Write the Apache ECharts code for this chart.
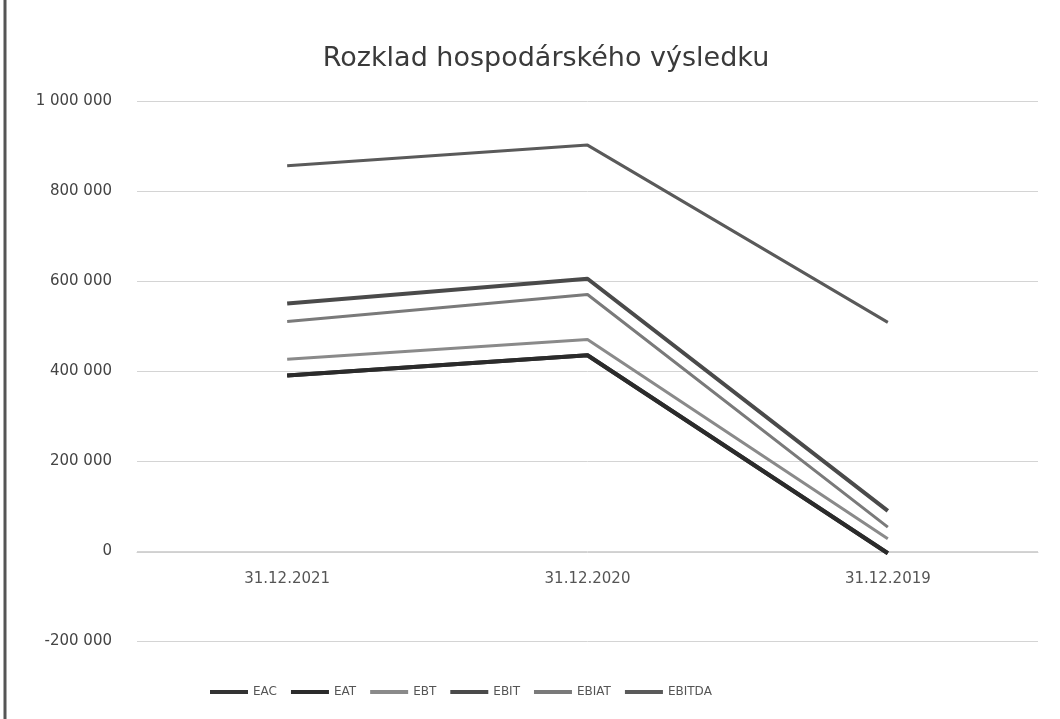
<!DOCTYPE html>
<html>
<head>
<meta charset="utf-8">
<script src="https://cdn.jsdelivr.net/npm/echarts@6/dist/echarts.min.js"></script>
<style>
  html, body { margin: 0; padding: 0; background: #fff; }
  #chart { width: 1060px; height: 719px; }
</style>
</head>
<body>
<div id="chart"></div>
<script>
// kategorie (datum)
const dates = ["31.12.2021", "31.12.2020", "31.12.2019"]
// hodnoty jednotlivych ukazatelu
const eac = [390000, 435000, -5000]
const eat = [390000, 435000, -5000]
const ebt = [426000, 470000, 27000]
const ebit = [550000, 605000, 89000]
const ebiat = [510000, 570000, 53000]
const ebitda = [856000, 902000, 508000]
const yTicks = [-200000, 0, 200000, 400000, 600000, 800000, 1000000]

const chart = echarts.init(document.getElementById("chart"))

const fmt = (v) => {
  const s = Math.abs(v).toString().replace(/\B(?=(\d{3})+(?!\d))/g, " ")
  return (v < 0 ? "-" : "") + s
}

const mkLine = (name, data, color, width) => ({
  name: name,
  type: "line",
  data: data,
  symbol: "none",
  lineStyle: { color: color, width: width },
  itemStyle: { color: color }
})

const options = {
  animation: false,
  textStyle: { fontFamily: "DejaVu Sans" },
  title: {
    text: "Rozklad hospodárského výsledku",
    left: 541,
    textAlign: "center",
    top: 40,
    textStyle: { fontSize: 27, fontWeight: "normal", color: "#3a3a3a", fontFamily: "DejaVu Sans" }
  },
  legend: {
    bottom: 16,
    left: 205,
    itemWidth: 38,
    itemHeight: 4,
    itemGap: 14,
    icon: "rect",
    textStyle: { fontSize: 12, color: "#555" }
  },
  grid: {
    left: 137,
    right: 22,
    top: 101,
    bottom: 78
  },
  xAxis: {
    type: "category",
    data: dates,
    offset: -89,
    axisLine: { show: true, onZero: false, lineStyle: { color: "#d0d0d0" } },
    axisTick: { show: false },
    axisLabel: { fontSize: 15, color: "#555", margin: 20 }
  },
  yAxis: {
    type: "value",
    min: yTicks[0],
    max: yTicks[yTicks.length - 1],
    interval: 200000,
    axisLabel: { fontSize: 15, color: "#444", margin: 25, formatter: fmt },
    splitLine: { lineStyle: { color: "#d4d4d4", width: 1 } }
  },
  graphic: [
    { type: "line", shape: { x1: 5, y1: 0, x2: 5, y2: 719 }, style: { stroke: "#555", lineWidth: 3 } }
  ],
  series: [
    mkLine("EAC", eac, "#333333", 4),
    mkLine("EAT", eat, "#2b2b2b", 4),
    mkLine("EBT", ebt, "#8a8a8a", 3),
    mkLine("EBIT", ebit, "#4a4a4a", 4),
    mkLine("EBIAT", ebiat, "#7a7a7a", 3),
    mkLine("EBITDA", ebitda, "#5a5a5a", 3)
  ]
}
chart.setOption(options)
</script>
</body>
</html>
